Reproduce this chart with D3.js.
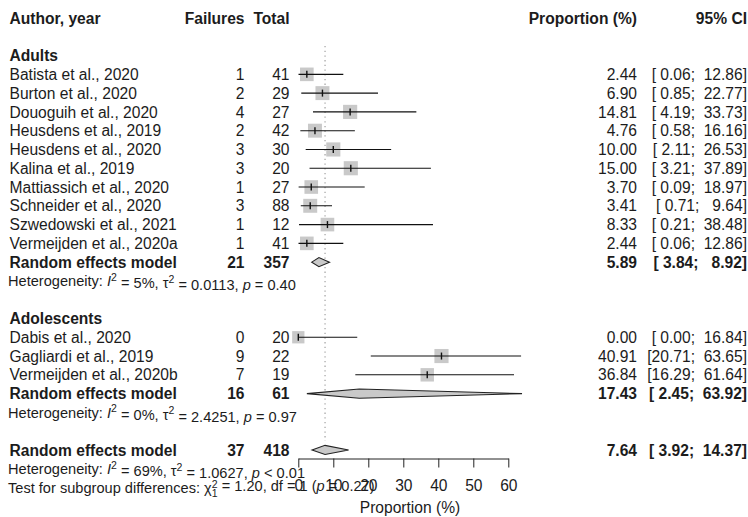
<!DOCTYPE html>
<html>
<head>
<meta charset="utf-8">
<script src="https://cdn.jsdelivr.net/npm/d3@7"></script>
<style>
  html, body { margin: 0; padding: 0; background: #fff; }
  svg { display: block; font-family: "Liberation Sans", Arial, sans-serif; }
</style>
</head>
<body>
<svg id="chart" width="748" height="517"></svg>
<script>
// Adults subgroup
const adultStudies = ["Batista et al., 2020", "Burton et al., 2020", "Douoguih et al., 2020",
  "Heusdens et al., 2019", "Heusdens et al., 2020", "Kalina et al., 2019",
  "Mattiassich et al., 2020", "Schneider et al., 2020", "Szwedowski et al., 2021",
  "Vermeijden et al., 2020a"];
const adultFailures = [1, 2, 4, 2, 3, 3, 1, 3, 1, 1];
const adultTotals = [41, 29, 27, 42, 30, 20, 27, 88, 12, 41];
const adultProp = [2.44, 6.90, 14.81, 4.76, 10.00, 15.00, 3.70, 3.41, 8.33, 2.44];
const adultLower = [0.06, 0.85, 4.19, 0.58, 2.11, 3.21, 0.09, 0.71, 0.21, 0.06];
const adultUpper = [12.86, 22.77, 33.73, 16.16, 26.53, 37.89, 18.97, 9.64, 38.48, 12.86];
const adultWeights = [7.6, 8.0, 8.2, 8.0, 8.2, 8.2, 7.6, 8.0, 7.6, 7.6];

// Adolescents subgroup
const adolStudies = ["Dabis et al., 2020", "Gagliardi et al., 2019", "Vermeijden et al., 2020b"];
const adolFailures = [0, 9, 7];
const adolTotals = [20, 22, 19];
const adolProp = [0.00, 40.91, 36.84];
const adolLower = [0.00, 20.71, 16.29];
const adolUpper = [16.84, 63.65, 61.64];
const adolWeights = [6.2, 8.2, 7.4];

// Pooled estimates: adults, adolescents, overall
const pooledLabels = ["Random effects model", "Random effects model", "Random effects model"];
const pooledFailures = [21, 16, 37];
const pooledTotals = [357, 61, 418];
const pooledProp = [5.89, 17.43, 7.64];
const pooledLower = [3.84, 2.45, 3.92];
const pooledUpper = [8.92, 63.92, 14.37];

// Heterogeneity statistics: I², tau², p
const hetI2 = ["5%", "0%", "69%"];
const hetTau2 = ["0.0113", "2.4251", "1.0627"];
const hetP = ["= 0.40", "= 0.97", "< 0.01"];

const axisTicks = [0, 10, 20, 30, 40, 50, 60];
const columnHeaders = ["Author, year", "Failures", "Total", "Proportion (%)", "95% CI"];
const groupNames = ["Adults", "Adolescents"];

const svg = d3.select("#chart");
const x = d3.scaleLinear().domain([0, 60]).range([298.3, 508.3]);
const rowY = k => 18 + k * 18.78;
const boxSide = d3.scaleSqrt().domain([0, 10]).range([0, 15.6]);

const col = { author: 9.5, fail: 244.5, total: 289.5, prop: 637, ci: 747 };
const FS = 15.6, FS_SMALL = 14.6;
const ink = "#1c1c1c";
const boxFill = "#c9c9c9";

function txt(xp, y, s, anchor, opts = {}) {
  return svg.append("text")
    .attr("x", xp).attr("y", y).attr("dy", "0.36em")
    .attr("text-anchor", anchor)
    .attr("font-size", opts.size || FS)
    .attr("font-weight", opts.bold ? "bold" : "normal")
    .attr("fill", opts.fill || ink)
    .attr("xml:space", "preserve")
    .style("white-space", "pre")
    .text(s);
}
const pad = v => { const s = v.toFixed(2); return s.length < 5 ? " " + s : s; };
const ciText = (lo, hi) => "[" + pad(lo) + ";  " + pad(hi) + "]";

// Header row
txt(col.author, rowY(0), columnHeaders[0], "start", { bold: true });
txt(col.fail, rowY(0), columnHeaders[1], "end", { bold: true });
txt(col.total, rowY(0), columnHeaders[2], "end", { bold: true });
txt(col.prop, rowY(0), columnHeaders[3], "end", { bold: true });
txt(col.ci, rowY(0), columnHeaders[4], "end", { bold: true });

// Reference line at the overall pooled estimate
svg.append("line")
  .attr("x1", x(pooledProp[2])).attr("x2", x(pooledProp[2]))
  .attr("y1", 46).attr("y2", 441)
  .attr("stroke", "#999").attr("stroke-width", 1.1)
  .attr("stroke-dasharray", "1.3,3.4");

function studyRows(startRow, names, fails, totals, prop, lo, hi, w) {
  names.forEach((n, i) => {
    const y = rowY(startRow + i);
    txt(col.author, y, n, "start");
    txt(col.fail, y, String(fails[i]), "end");
    txt(col.total, y, String(totals[i]), "end");
    txt(col.prop, y, prop[i].toFixed(2), "end");
    txt(col.ci, y, ciText(lo[i], hi[i]), "end");
    const s = boxSide(w[i]);
    svg.append("rect")
      .attr("x", x(prop[i]) - s / 2).attr("y", y - s / 2)
      .attr("width", s).attr("height", s)
      .attr("fill", boxFill);
    svg.append("line")
      .attr("x1", x(lo[i])).attr("x2", x(hi[i]))
      .attr("y1", y).attr("y2", y)
      .attr("stroke", "#111").attr("stroke-width", 1.1);
    svg.append("line")
      .attr("x1", x(prop[i])).attr("x2", x(prop[i]))
      .attr("y1", y - 3.5).attr("y2", y + 3.5)
      .attr("stroke", "#111").attr("stroke-width", 1.4);
  });
}

function pooledRow(row, j) {
  const y = rowY(row);
  txt(col.author, y, pooledLabels[j], "start", { bold: true });
  txt(col.fail, y, String(pooledFailures[j]), "end", { bold: true });
  txt(col.total, y, String(pooledTotals[j]), "end", { bold: true });
  txt(col.prop, y, pooledProp[j].toFixed(2), "end", { bold: true });
  txt(col.ci, y, ciText(pooledLower[j], pooledUpper[j]), "end", { bold: true });
  const h = 4.6;
  const pts = [[x(pooledLower[j]), y], [x(pooledProp[j]), y - h],
               [x(pooledUpper[j]), y], [x(pooledProp[j]), y + h]];
  svg.append("path")
    .attr("d", d3.line()(pts) + "Z")
    .attr("fill", boxFill).attr("stroke", "#222").attr("stroke-width", 1.1)
    .attr("stroke-linejoin", "miter");
}

function hetRow(row, j) {
  const t = svg.append("text")
    .attr("x", 8).attr("y", rowY(row)).attr("dy", "0.36em")
    .attr("font-size", FS_SMALL).attr("fill", ink);
  t.append("tspan").text("Heterogeneity: ");
  t.append("tspan").attr("font-style", "italic").text("I");
  t.append("tspan").attr("font-size", 10.5).attr("dy", "-0.5em").text("2");
  t.append("tspan").attr("dy", "0.5em").text(" = " + hetI2[j] + ", τ");
  t.append("tspan").attr("font-size", 10.5).attr("dy", "-0.5em").text("2");
  t.append("tspan").attr("dy", "0.5em").text(" = " + hetTau2[j] + ", ");
  t.append("tspan").attr("font-style", "italic").text("p");
  t.append("tspan").text(" " + hetP[j]);
}

// Adults
txt(col.author, rowY(2), groupNames[0], "start", { bold: true });
studyRows(3, adultStudies, adultFailures, adultTotals, adultProp, adultLower, adultUpper, adultWeights);
pooledRow(13, 0);
hetRow(14, 0);

// Adolescents
txt(col.author, rowY(16), groupNames[1], "start", { bold: true });
studyRows(17, adolStudies, adolFailures, adolTotals, adolProp, adolLower, adolUpper, adolWeights);
pooledRow(20, 1);
hetRow(21, 1);

// Overall
pooledRow(23, 2);
hetRow(24, 2);

// Test for subgroup differences
const tt = svg.append("text")
  .attr("x", 8).attr("y", rowY(25)).attr("dy", "0.36em")
  .attr("font-size", FS_SMALL).attr("fill", ink);
tt.append("tspan").text("Test for subgroup differences: χ");
tt.append("tspan").attr("font-size", 10.5).attr("dy", "-0.5em").text("2");
tt.append("tspan").attr("font-size", 10.5).attr("dx", "-5.8").attr("dy", "0.95em").text("1");
tt.append("tspan").attr("dy", "-0.45em").text(" = 1.20, df = 1 (");
tt.append("tspan").attr("font-style", "italic").text("p");
tt.append("tspan").text(" = 0.27)");

// Axis
const axisY = 458.5;
const axis = d3.axisBottom(x).tickValues(axisTicks).tickSize(9).tickPadding(12).tickSizeOuter(0);
const ag = svg.append("g").attr("transform", `translate(0,${axisY})`).call(axis);
ag.select(".domain").attr("stroke", "#222");
ag.selectAll(".tick line").attr("stroke", "#222");
ag.selectAll(".tick text").attr("font-size", FS).attr("fill", ink)
  .attr("font-family", "Liberation Sans, Arial, sans-serif");
txt(410, 507, "Proportion (%)", "middle");
</script>
</body>
</html>
